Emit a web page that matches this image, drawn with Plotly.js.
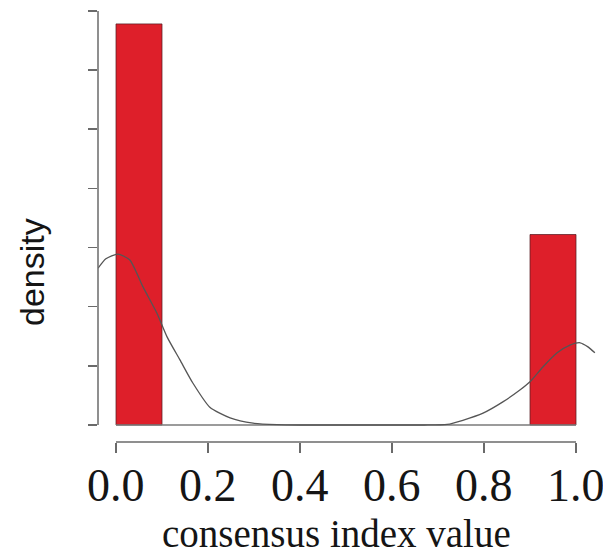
<!DOCTYPE html>
<html>
<head>
<meta charset="utf-8">
<script src="https://cdn.plot.ly/plotly-3.0.1.min.js"></script>
<style>
  html, body { margin: 0; padding: 0; background: #fff; }
  #chart { width: 603px; height: 556px; }
</style>
</head>
<body>
<div id="chart"></div>
<script>
// Histogram bins (density scale) of the consensus index
const binEdges = [0.0, 0.1, 0.2, 0.3, 0.4, 0.5, 0.6, 0.7, 0.8, 0.9, 1.0];
const binDensity = [6.78, 0, 0, 0, 0, 0, 0, 0, 0, 3.22];

// Kernel density estimate drawn over the histogram
const densX = [-0.039, -0.022, 0.004, 0.030, 0.059, 0.089, 0.111, 0.139, 0.167, 0.204, 0.248, 0.298,
               0.35, 0.40, 0.50, 0.60, 0.67, 0.72, 0.754, 0.798, 0.841, 0.878, 0.900, 0.928, 0.959, 0.987, 1.009, 1.026, 1.041];
const densY = [2.65, 2.81, 2.89, 2.79, 2.33, 1.89, 1.49, 1.10, 0.71, 0.30, 0.12, 0.03,
               0.005, 0, 0, 0, 0, 0.01, 0.08, 0.20, 0.39, 0.59, 0.73, 0.98, 1.22, 1.35, 1.39, 1.32, 1.22];

const xTicks = [0.0, 0.2, 0.4, 0.6, 0.8, 1.0];
const xTickText = ['0.0', '0.2', '0.4', '0.6', '0.8', '1.0'];
const yTicks = [0, 1, 2, 3, 4, 5, 6, 7];

// bar centres and widths from the bin edges
const barX = [], barW = [], barY = [];
for (let i = 0; i < binDensity.length; i++) {
  if (binDensity[i] > 0) {
    barX.push((binEdges[i] + binEdges[i + 1]) / 2);
    barW.push(binEdges[i + 1] - binEdges[i]);
    barY.push(binDensity[i]);
  }
}

const axisGrey = '#6a6a6a';
const serif = 'Liberation Serif, Times New Roman, serif';

const traces = [
  {
    type: 'bar',
    x: barX, y: barY, width: barW,
    marker: { color: '#de1f2a', line: { color: 'rgba(90,30,35,0.75)', width: 1 } },
    hoverinfo: 'skip'
  },
  {
    // empty bins drawn as their outline on the baseline
    type: 'scatter', mode: 'lines',
    x: binEdges, y: binEdges.map(() => 0),
    line: { color: '#7a7a7a', width: 1.3 },
    hoverinfo: 'skip'
  },
  {
    type: 'scatter', mode: 'lines',
    x: densX, y: densY,
    line: { color: '#555555', width: 1.3, shape: 'spline', smoothing: 0.6 },
    hoverinfo: 'skip'
  }
];

// tick labels of the detached x axis
const tickLabels = xTicks.map((v, i) => ({
  text: xTickText[i], xref: 'x', yref: 'paper', x: v, y: -(486 - 442) / 437,
  xanchor: 'center', yanchor: 'middle', showarrow: false,
  font: { family: serif, size: 46, color: '#151515' }
}));

const layout = {
  width: 603, height: 556,
  margin: { l: 98, r: 0, t: 5, b: 114 },
  paper_bgcolor: '#ffffff', plot_bgcolor: '#ffffff',
  showlegend: false,
  bargap: 0,
  xaxis: {
    range: [-0.03913, 1.0587],
    tickmode: 'array', tickvals: xTicks,
    ticks: 'outside', ticklen: 10, tickwidth: 1.5, tickcolor: axisGrey,
    showticklabels: false,
    showgrid: false, zeroline: false, showline: false
  },
  yaxis: {
    range: [-0.2875, 7.10],
    tickmode: 'array', tickvals: yTicks,
    ticks: 'outside', ticklen: 9, tickwidth: 1.5, tickcolor: axisGrey,
    showticklabels: false,
    showgrid: false, zeroline: false, showline: false
  },
  shapes: [
    // detached axis lines spanning the tick range only
    { type: 'line', xref: 'x', yref: 'paper', x0: xTicks[0], x1: xTicks[xTicks.length - 1], y0: 0, y1: 0,
      line: { color: axisGrey, width: 1.5 } },
    { type: 'line', xref: 'paper', yref: 'y', x0: 0, x1: 0, y0: yTicks[0], y1: yTicks[yTicks.length - 1],
      line: { color: axisGrey, width: 1.5 } }
  ],
  annotations: tickLabels.concat([
    { text: 'consensus index value', xref: 'paper', yref: 'paper',
      x: (336 - 98) / 505, y: -(533 - 442) / 437, xanchor: 'center', yanchor: 'middle', showarrow: false,
      font: { family: serif, size: 39, color: '#151515' } },
    { text: 'density', xref: 'paper', yref: 'paper',
      x: -(98 - 32) / 505, y: (442 - 272) / 437, xanchor: 'center', yanchor: 'middle', showarrow: false,
      textangle: -90,
      font: { family: 'Liberation Sans, Arial, sans-serif', size: 34, color: '#151515' } }
  ])
};

Plotly.newPlot('chart', traces, layout, { staticPlot: true, displayModeBar: false });
</script>
</body>
</html>
